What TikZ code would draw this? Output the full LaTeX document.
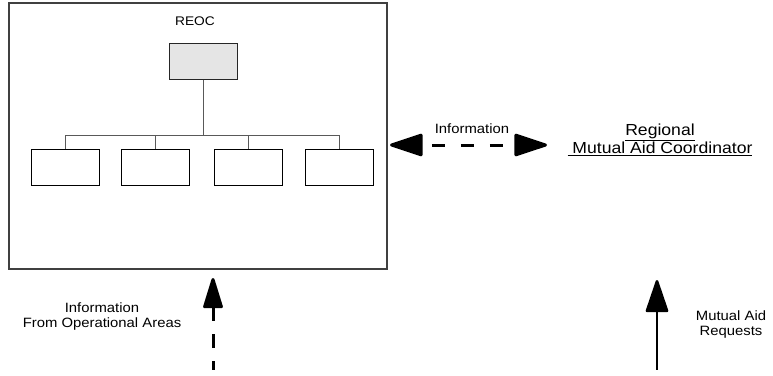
\documentclass[tikz,border=0pt]{standalone}
\usepackage{fontspec}
\setmainfont{Liberation Sans}[FakeStretch=1.1]
\usetikzlibrary{arrows.meta}
\tikzset{
  frame/.style={draw=black!75, line width=1.1pt},
  headbox/.style={draw=black!85, fill=black!10, line width=1pt, minimum width=68pt, minimum height=36pt, inner sep=0pt},
  unitbox/.style={draw=black, fill=white, line width=1pt, minimum width=68pt, minimum height=36pt, inner sep=0pt},
  orgline/.style={draw=black!65, line width=1pt},
  lbl/.style={font=\fontsize{13.5}{15}\selectfont, inner sep=0pt, align=center},
  biglbl/.style={font=\fontsize{16}{18.5}\selectfont, inner sep=0pt, align=center},
  infoarrow/.style={line width=3pt, dash pattern=on 13pt off 16pt, dash phase=19pt,
    {Triangle[length=36pt,width=23pt,round]}-{Triangle[length=36pt,width=23pt,round]}},
  oparrow/.style={line width=3pt, dash pattern=on 14pt off 13pt, {Triangle[length=34pt,width=20pt,round]}-},
  mutarrow/.style={line width=2.6pt, {Triangle[length=35pt,width=23pt,round]}-},
}
\begin{document}
\begin{tikzpicture}[x=1pt,y=-1pt]
\useasboundingbox (0,0) rectangle (773,375);
% REOC frame
\node[frame, minimum width=378pt, minimum height=266pt, inner sep=0pt] (reoc) at (198,136) {};
\node[font=\fontsize{12.5}{14}\selectfont, anchor=base, inner sep=0pt] (reoctitle) at (195,25.5) {REOC};
% org chart
\node[headbox] (head) at (203,61) {};
\node[unitbox] (u1) at (65,167) {};
\node[unitbox] (u2) at (155,167) {};
\node[unitbox] (u3) at (248.5,167) {};
\node[unitbox] (u4) at (339,167) {};
\coordinate (bus) at (204,135);
\draw[orgline] (head.south) -- (head.south |- bus);
\draw[orgline] (u1.north) -- (u1.north |- bus) -- (u4.north |- bus) -- (u4.north);
\draw[orgline] (u2.north) -- (u2.north |- bus);
\draw[orgline] (u3.north) -- (u3.north |- bus);
% Information arrow
\coordinate (infoL) at (390,145);
\coordinate (infoR) at (547,145);
\draw[infoarrow] (infoL) -- (infoR);
\node[lbl, anchor=base] (infolbl) at (472,133) {Information};
% Regional coordinator
\node[biglbl] (rmac) at (660,140) {\underline{Regional}\\\underline{\ Mutual Aid Coordinator}};
% bottom left arrow
\coordinate (opTip) at (213,278);
\coordinate (opSrc) at (213,370);
\draw[oparrow] (opTip) -- (opSrc);
\node[lbl] (oplbl) at (102,317) {Information\\From Operational Areas};
% bottom right arrow
\coordinate (muTip) at (657,280);
\coordinate (muSrc) at (657,370);
\draw[mutarrow] (muTip) -- (muSrc);
\node[lbl] (mulbl) at (731,325) {Mutual Aid\\Requests};
\end{tikzpicture}
\end{document}
